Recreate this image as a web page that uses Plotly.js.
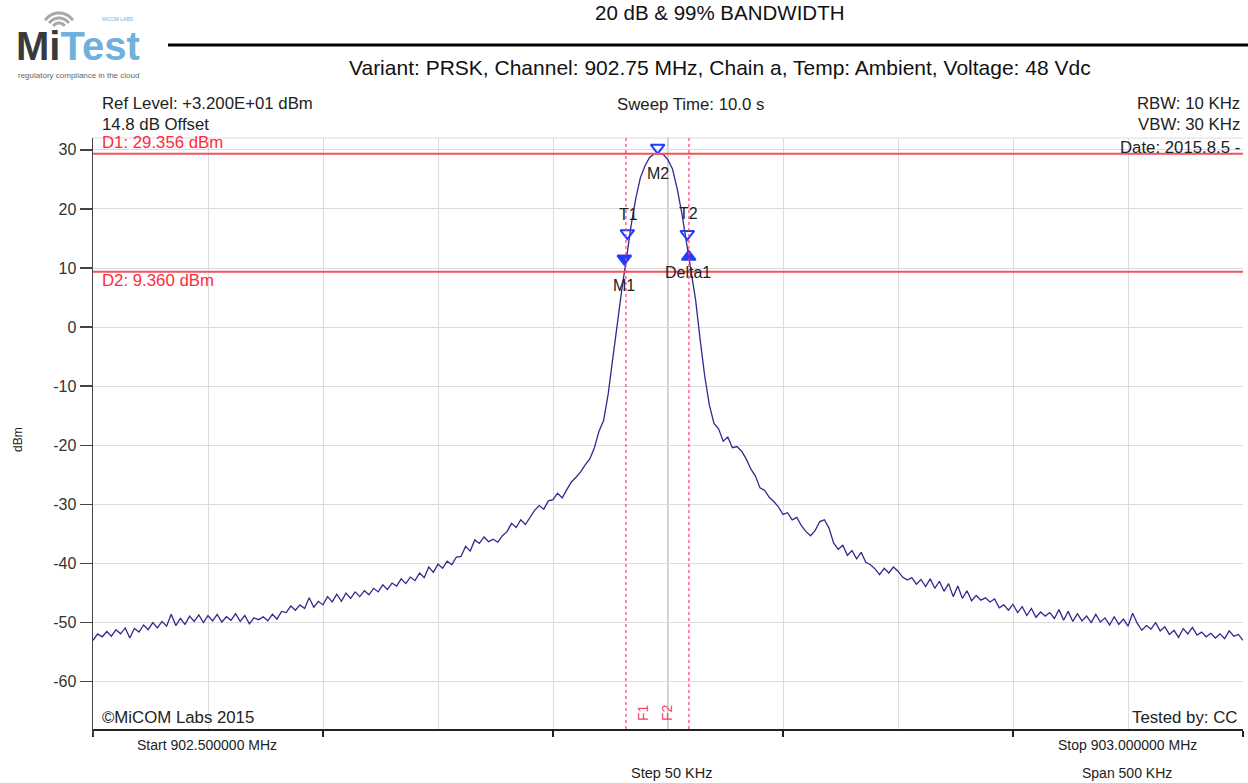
<!DOCTYPE html>
<html>
<head>
<meta charset="utf-8">
<script src="https://cdn.plot.ly/plotly-3.0.1.min.js"></script>
<style>html,body{margin:0;padding:0;background:#fff;}#chart{width:1248px;height:783px;}</style>
</head>
<body>
<div id="chart"></div>
<script>
// ---- data ----
const startMHz = 902.5;
const stopMHz = 903.0;
const stepMHz = 0.002;
const traceLevel = [
-53.0,-51.9,-52.4,-51.5,-52.3,-51.2,-51.9,-50.9,-52.6,-51.0,
-51.6,-50.4,-51.2,-50.0,-50.9,-49.8,-50.6,-48.6,-50.5,-49.3,
-50.3,-48.9,-49.8,-48.7,-50.0,-48.8,-49.7,-48.6,-49.9,-49.0,
-49.6,-48.5,-49.8,-48.8,-50.2,-49.2,-49.5,-49.0,-49.7,-48.6,
-49.4,-48.1,-48.3,-47.2,-47.9,-47.0,-47.6,-45.8,-47.4,-46.4,
-47.0,-45.6,-46.5,-45.2,-46.4,-45.0,-45.9,-44.8,-45.6,-44.6,
-45.3,-44.2,-44.8,-43.6,-44.4,-43.3,-43.8,-42.6,-43.4,-42.3,
-42.9,-41.6,-42.4,-40.6,-41.5,-40.1,-40.8,-39.6,-40.2,-38.9,
-38.8,-37.1,-37.9,-36.0,-36.6,-35.5,-36.3,-35.9,-36.4,-35.3,
-34.6,-33.2,-33.9,-32.6,-33.4,-32.3,-31.0,-30.2,-30.8,-29.4,
-29.2,-28.1,-28.9,-27.5,-26.2,-25.4,-24.5,-23.3,-22.3,-20.4,
-17.6,-15.8,-11.3,-5.3,0.8,6.6,11.8,17.3,21.8,25.3,
27.3,28.7,29.3,29.4,29.2,28.3,26.7,23.4,19.3,14.6,
9.6,4.6,-2.2,-8.4,-13.2,-16.3,-17.2,-19.3,-18.6,-20.4,
-20.2,-21.0,-22.3,-24.0,-25.2,-27.2,-27.6,-28.8,-29.5,-30.4,
-31.7,-31.4,-32.6,-32.2,-33.6,-34.6,-35.3,-34.4,-32.9,-32.6,
-34.0,-36.5,-37.6,-36.9,-38.6,-37.8,-39.2,-38.1,-39.8,-40.2,
-40.9,-41.9,-40.8,-41.6,-40.6,-41.3,-42.3,-42.8,-42.4,-43.5,
-42.7,-43.9,-42.6,-44.2,-43.0,-44.7,-43.4,-45.6,-43.8,-45.9,
-44.6,-46.3,-45.4,-46.2,-45.8,-46.5,-46.0,-47.5,-47.0,-47.9,
-46.9,-48.3,-47.3,-48.8,-47.6,-49.1,-48.2,-48.9,-48.3,-49.3,
-47.8,-49.6,-48.1,-49.8,-48.5,-49.7,-48.9,-50.0,-48.6,-49.9,
-49.2,-50.4,-49.0,-50.3,-49.4,-50.6,-48.4,-50.1,-51.3,-50.5,
-51.1,-50.0,-51.4,-50.7,-52.0,-51.3,-52.5,-51.0,-51.9,-50.8,
-52.1,-51.6,-52.4,-51.8,-52.6,-51.9,-52.7,-51.4,-52.3,-52.0,
-53.0
];
const markerNames = ["M1", "M2", "T1", "T2", "Delta1"];
const markerFreq = [902.7310, 902.7455, 902.7323, 902.7584, 902.7590];
const markerLevel = [11.6, 30.36, 15.9, 15.76, 11.9];
const displayLineNames = ["D1: 29.356 dBm", "D2: 9.360 dBm"];
const displayLineLevel = [29.356, 9.360];
const freqLineNames = ["F1", "F2"];
const freqLineFreq = [902.7317, 902.7591];
const yTickVals = [-60, -50, -40, -30, -20, -10, 0, 10, 20, 30];
const yTickText = ["-60", "-50", "-40", "-30", "-20", "-10", "0", "10", "20", "30"];

// ---- build ----
const freq = traceLevel.map((_, i) => +(startMHz + i * stepMHz).toFixed(4));
const PL = 93, PR = 1243, PT = 138, PB = 729;
const px = x => (x - PL) / (PR - PL);
const py = y => (PB - y) / (PB - PT);
const FONT = "Liberation Sans, Arial, sans-serif";

const traces = [
  {x: freq, y: traceLevel, type: "scatter", mode: "lines",
   line: {color: "#33288f", width: 1.3}, hoverinfo: "x+y"},
  {x: markerFreq, y: markerLevel, type: "scatter", mode: "markers",
   text: markerNames,
   marker: {symbol: ["triangle-down", "triangle-down-open", "triangle-down-open", "triangle-down-open", "triangle-up"],
            size: 12, color: "#1f3cff", line: {color: "#1f3cff", width: 2}}}
];

const shapes = [];
shapes.push({type: "line", xref: "paper", yref: "paper", x0: 0, x1: 1, y0: 1, y1: 1, line: {color: "#dcdcdc", width: 1}, layer: "below"});
shapes.push({type: "line", xref: "x", yref: "paper", x0: 902.75, x1: 902.75, y0: 0, y1: 1, line: {color: "#a9a9a9", width: 1.2}, layer: "below"});
// y-axis line extension below the x-axis
shapes.push({type: "line", xref: "paper", yref: "paper", x0: 0, x1: 0, y0: 0, y1: py(736), line: {color: "#444", width: 1.5}});
displayLineLevel.forEach(v => {
  shapes.push({type: "line", xref: "paper", yref: "y", x0: 0, x1: 1, y0: v, y1: v, line: {color: "#f4525c", width: 2}});
});
freqLineFreq.forEach(v => {
  shapes.push({type: "line", xref: "x", yref: "paper", x0: v, x1: v, y0: 0, y1: 1, line: {color: "#ff3d6e", width: 1.2, dash: "dot"}});
});
shapes.push({type: "line", xref: "paper", yref: "paper", x0: px(168), x1: px(1248), y0: py(45), y1: py(45), line: {color: "#000", width: 3}});
[7, 12, 17].forEach((r) => {
  const cx = 59, cy = 30;
  let d = "";
  for (let a = 35; a <= 145; a += 10) {
    const rad = a * Math.PI / 180;
    const X = px(cx + r * Math.cos(rad)), Y = py(cy - r * Math.sin(rad));
    d += (a === 35 ? "M " : " L ") + X + "," + Y;
  }
  shapes.push({type: "path", xref: "paper", yref: "paper", path: d, line: {color: "#a8a8a8", width: 3}});
});

const ann = [];
function txt(text, x, y, anchor, size, color, extra) {
  ann.push(Object.assign({text: text, xref: "paper", yref: "paper", x: px(x), y: py(y),
    xanchor: anchor, yanchor: "middle", showarrow: false,
    font: {family: FONT, size: size, color: color || "#222"}}, extra || {}));
}
const FS = 16.8;
txt("20 dB &amp; 99% BANDWIDTH", 720, 12, "center", 20.5, "#111");
txt("Variant: PRSK, Channel: 902.75 MHz, Chain a, Temp: Ambient, Voltage: 48 Vdc", 720, 67, "center", 21, "#111");
txt("Ref Level: +3.200E+01 dBm", 100, 103, "left", FS, "#222");
txt("14.8 dB Offset", 100, 124, "left", FS, "#222");
txt("Sweep Time: 10.0 s", 690, 105, "center", FS, "#222");
txt("RBW: 10 KHz", 1242, 103, "right", FS, "#222");
txt("VBW: 30 KHz", 1242, 124, "right", FS, "#222");
txt("Date: 2015.8.5 -", 1242, 147, "right", FS, "#222");
txt(displayLineNames[0], 100, 143, "left", FS, "#ff2a3a");
txt(displayLineNames[1], 100, 280, "left", FS, "#ff2a3a");
txt("©MiCOM Labs 2015", 100, 717, "left", FS, "#222");
txt("Tested by: CC", 1239, 717, "right", FS, "#222");
txt("Start 902.500000 MHz", 207, 745, "center", 14, "#222");
txt("Stop 903.000000 MHz", 1127, 745, "center", 14, "#222");
txt("Step 50 KHz", 671, 773, "center", 14.5, "#222");
txt("Span 500 KHz", 1127, 773, "center", 14, "#222");
txt("dBm", 18, 440, "center", 12, "#222", {textangle: -90});
freqLineNames.forEach((n, k) => {
  txt(n, k === 0 ? 643 : 667, 713, "center", 14, "#ff3d6e", {textangle: -90});
});
// logo
txt("<b><span style='color:#3a3a3a'>Mi</span><span style='color:#6fb0dc'>Test</span></b>", 78, 46, "center", 40, "#3a3a3a");
txt("MiCOM LABS", 118, 19, "center", 5, "#6fb0dc");
txt("regulatory compliance in the cloud", 78, 75, "center", 8, "#666");

const lblShift = {M1: [0, -27], M2: [0, -26], T1: [1, 19], T2: [1, 20], Delta1: [-1, -16]};
markerNames.forEach((n, i) => {
  ann.push({text: n, xref: "x", yref: "y", x: markerFreq[i], y: markerLevel[i], showarrow: false,
    xshift: lblShift[n][0], yshift: lblShift[n][1], xanchor: "center", yanchor: "middle",
    font: {family: FONT, size: 16, color: "#222"}});
});

const layout = {
  width: 1248, height: 783,
  margin: {l: PL, r: 1248 - PR, t: PT, b: 783 - PB, pad: 0},
  paper_bgcolor: "#fff", plot_bgcolor: "#fff",
  showlegend: false,
  font: {family: FONT, size: 14, color: "#222"},
  xaxis: {range: [startMHz, stopMHz], tick0: startMHz, dtick: 0.1, showticklabels: false,
    ticks: "outside", ticklen: 6, tickcolor: "#222", tickwidth: 1.5,
    showline: true, linecolor: "#222", linewidth: 1.5,
    showgrid: true, gridcolor: "#dcdcdc", gridwidth: 1, zeroline: false,
    minor: {dtick: 0.05, tick0: startMHz, showgrid: true, gridcolor: "#dcdcdc", ticks: ""}},
  yaxis: {range: [-68, 32], tickvals: yTickVals, ticktext: yTickText,
    ticks: "outside", ticklen: 12, tickcolor: "#444", tickwidth: 1.5,
    showline: true, linecolor: "#444", linewidth: 1.5,
    showgrid: true, gridcolor: "#dcdcdc", gridwidth: 1, zeroline: false,
    tickfont: {family: FONT, size: 16, color: "#333"}},
  shapes: shapes,
  annotations: ann
};
Plotly.newPlot("chart", traces, layout, {staticPlot: true, displayModeBar: false});
</script>
</body>
</html>
